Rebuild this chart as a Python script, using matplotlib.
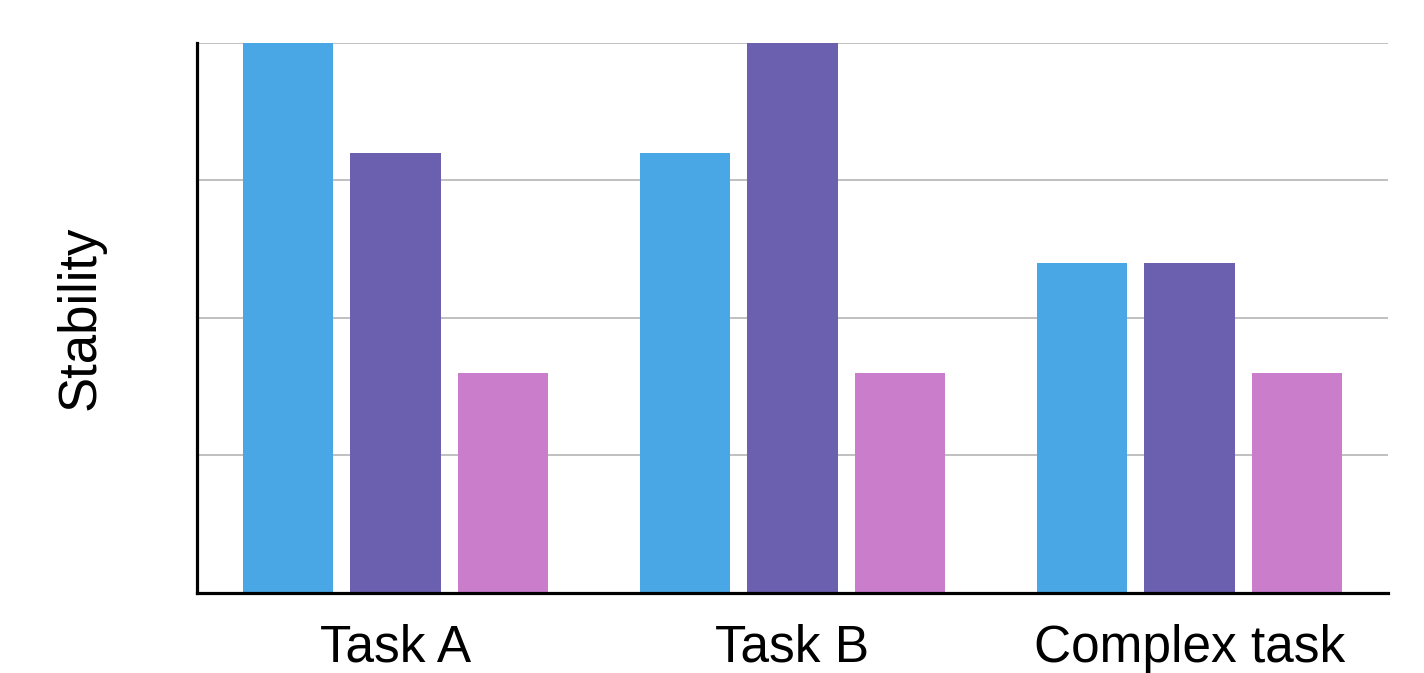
import numpy as np
import matplotlib.pyplot as plt

plt.rcParams['font.family'] = ['Liberation Sans', 'DejaVu Sans']

# data
tasks = ['Task A', 'Task B', 'Complex task']
series_1 = [4.0, 3.2, 2.4]   # blue
series_2 = [3.2, 4.0, 2.4]   # purple
series_3 = [1.6, 1.6, 1.6]   # pink
colors = ['#4AA7E6', '#6B5FAF', '#C97DCB']

fig = plt.figure(figsize=(14.24, 6.73), dpi=100)
ax = fig.add_axes([0.1383, 0.1189, 0.8364, 0.8172])

x = np.arange(len(tasks))
width = 0.227
offset = 0.27
ax.bar(x - offset, series_1, width, color=colors[0], zorder=3)
ax.bar(x, series_2, width, color=colors[1], zorder=3)
ax.bar(x + offset, series_3, width, color=colors[2], zorder=3)

ax.set_xlim(-0.5, 2.5)
ax.set_ylim(0, 4)
ax.set_yticks([1, 2, 3, 4])
ax.set_yticklabels([])
ax.yaxis.grid(True, color='#BBBBBB', linewidth=1.3, zorder=0)
ax.set_axisbelow(True)

ax.set_xticks(x)
ax.set_xticklabels(tasks, fontsize=37)
ax.tick_params(axis='both', length=0)
ax.tick_params(axis='x', pad=22)

ax.set_ylabel('Stability', fontsize=38)
ax.yaxis.set_label_coords(-0.077, 0.5)

for side in ['top', 'right']:
    ax.spines[side].set_visible(False)
for side in ['left', 'bottom']:
    ax.spines[side].set_linewidth(2.3)
    ax.spines[side].set_color('black')
    ax.spines[side].set_zorder(4)

plt.savefig('out.png', dpi=100)
